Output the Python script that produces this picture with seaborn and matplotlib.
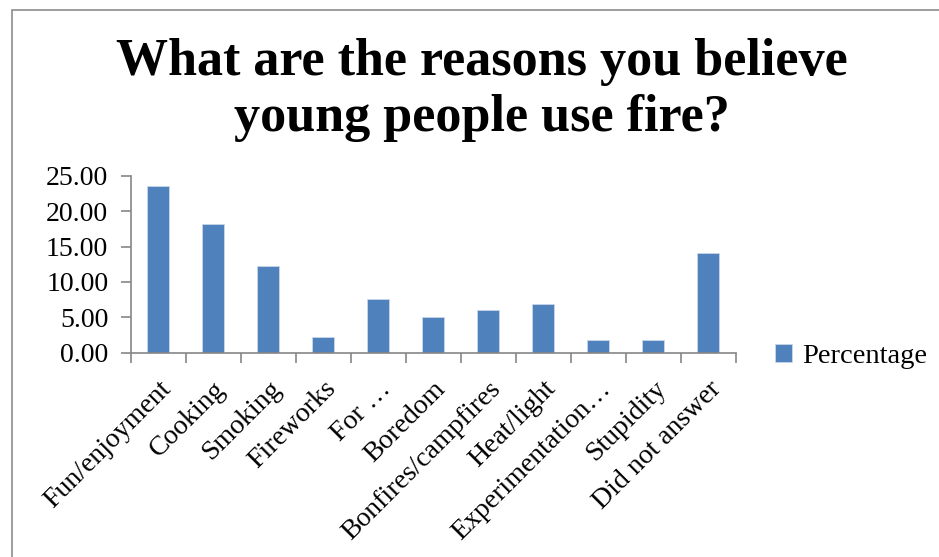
import matplotlib
matplotlib.use("Agg")
import matplotlib.pyplot as plt
import seaborn as sns
import pandas as pd
from matplotlib.patches import Rectangle
from matplotlib.ticker import FixedLocator, FormatStrFormatter

categories = ["Fun/enjoyment", "Cooking", "Smoking", "Fireworks", "For …",
              "Boredom", "Bonfires/campfires", "Heat/light", "Experimentation…",
              "Stupidity", "Did not answer"]
percentage = [23.6, 18.2, 12.3, 2.2, 7.6, 5.1, 6.1, 6.9, 1.8, 1.8, 14.1]
y_ticks = [0, 5, 10, 15, 20, 25]
title = "What are the reasons you believe\nyoung people use fire?"
series_name = "Percentage"

sns.set_theme(style="white")
plt.rcParams["font.family"] = ["Liberation Serif", "DejaVu Serif"]
plt.rcParams["text.color"] = "black"

W, H = 939, 557
fig = plt.figure(figsize=(W / 100, H / 100), dpi=100)
fig.patch.set_facecolor("white")

# chart frame
fig.add_artist(Rectangle((12 / W, -0.1), 1.2, 1 - 10 / H + 0.1, transform=fig.transFigure,
                         fill=False, edgecolor="#8c8c8c", linewidth=1.2))

ax = fig.add_axes([130.5 / W, 1 - 352.7 / H, (736 - 130.5) / W, (352.7 - 175.7) / H])
df = pd.DataFrame({"category": categories, "value": percentage})
sns.barplot(data=df, x="category", y="value", color="#4F81BD", width=0.4,
            saturation=1, edgecolor="#c9d6ea", linewidth=0.6, ax=ax, label=series_name)

ax.set_xlim(-0.5, len(categories) - 0.5)
ax.set_ylim(0, 25)
ax.set_xlabel("")
ax.set_ylabel("")
ax.yaxis.set_major_locator(FixedLocator(y_ticks))
ax.yaxis.set_major_formatter(FormatStrFormatter("%.2f"))

for side in ["top", "right"]:
    ax.spines[side].set_visible(False)
for side in ["left", "bottom"]:
    ax.spines[side].set_color("#868686")
    ax.spines[side].set_linewidth(1.2)

ax.tick_params(axis="y", which="major", left=True, length=7, width=1.2, color="#868686",
               labelsize=20, pad=9, labelcolor="black")
ax.set_xticks(range(len(categories)))
ax.set_xticklabels(categories, rotation=45, ha="right", rotation_mode="anchor",
                   fontsize=20)
ax.tick_params(axis="x", which="major", bottom=False, pad=11, labelcolor="black")
ax.set_xticks([i - 0.5 for i in range(len(categories) + 1)], minor=True)
ax.tick_params(axis="x", which="minor", bottom=True, length=7, width=1.2, color="#868686")

fig.text(482 / W, 1 - 90 / H, title, ha="center", va="center", fontsize=37.5,
         fontweight="bold", linespacing=1.2, color="black")

leg = ax.legend(loc="center left", bbox_to_anchor=(1.045, -0.02), frameon=False, fontsize=20.5,
                handlelength=0.6, handleheight=0.6, handletextpad=0.35, borderaxespad=0)

fig.savefig("out.png", dpi=100, facecolor="white")
